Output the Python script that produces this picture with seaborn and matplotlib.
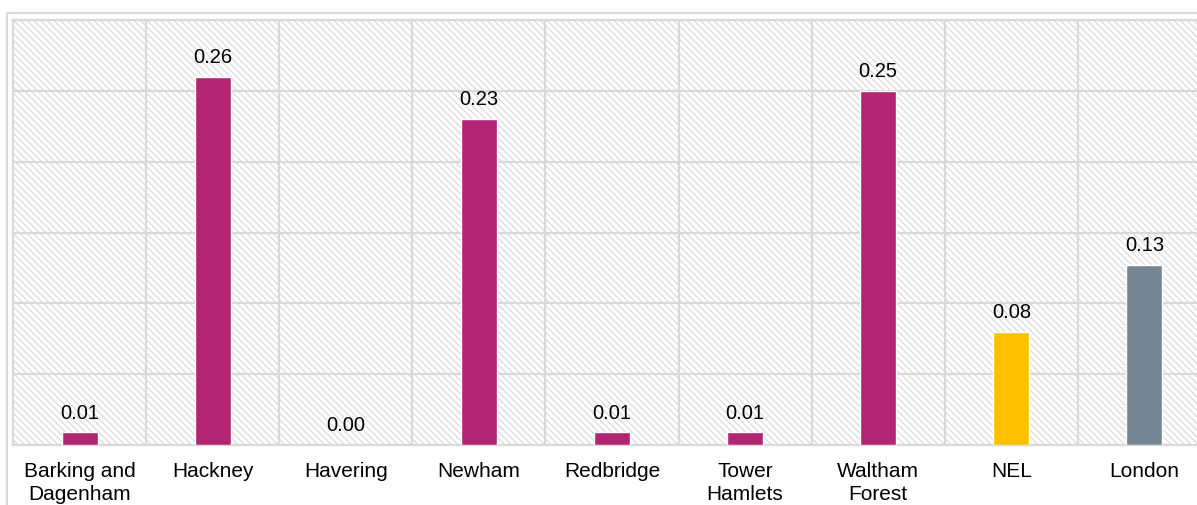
import numpy as np
import pandas as pd
import matplotlib
matplotlib.use("Agg")
import matplotlib.pyplot as plt
from matplotlib.patches import Rectangle
import seaborn as sns

# Data
areas = ["Barking and\nDagenham", "Hackney", "Havering", "Newham", "Redbridge",
         "Tower\nHamlets", "Waltham\nForest", "NEL", "London"]
values = [0.009, 0.26, 0.0, 0.23, 0.009, 0.009, 0.25, 0.08, 0.127]
colors = ["#B12572"] * 7 + ["#FFC000", "#758592"]

GRID = "#dbd8d9"

sns.set_theme(style="white")
plt.rcParams["font.family"] = ["Liberation Sans", "DejaVu Sans"]
plt.rcParams["hatch.color"] = "#d2d2d2"
plt.rcParams["hatch.linewidth"] = 0.7

df = pd.DataFrame({"area": areas, "value": values})

fig = plt.figure(figsize=(11.97, 5.05), dpi=100)
W, H = 1197, 505
ax = fig.add_axes([13 / W, 1 - 445 / H, 1198 / W, (445 - 20) / H])

# outer chart border
fig.patches.append(Rectangle((7 / W, -0.1), 1.2, 1 - 13 / H + 0.1, transform=fig.transFigure,
                             fill=False, edgecolor=GRID, linewidth=1.5, zorder=0))

# hatched plot background
ax.add_patch(Rectangle((0, 0), 1, 1, transform=ax.transAxes, facecolor="white",
                       hatch="\\" * 5, edgecolor="#d2d2d2", linewidth=0, zorder=0))

sns.barplot(data=df, x="area", y="value", hue="area", palette=colors,
            width=0.27, legend=False, ax=ax, zorder=3, saturation=1)

for i, v in enumerate(values):
    ax.annotate(f"{v:.2f}", (i, v), xytext=(0, 7), textcoords="offset points",
                ha="center", va="bottom", fontsize=14.5, color="#000000", zorder=4)

ax.set_xlim(-0.5, len(areas) - 0.5)
ax.set_ylim(0, 0.30)
ax.set_yticks(np.arange(0, 0.301, 0.05))
ax.set_yticklabels([])
ax.set_xticks(np.arange(len(areas)) + 0.5, minor=True)
ax.grid(True, which="major", axis="y", color=GRID, linewidth=1.6, zorder=1)
ax.grid(True, which="minor", axis="x", color=GRID, linewidth=1.6, zorder=1)
ax.grid(False, which="major", axis="x")
ax.set_axisbelow(True)
ax.tick_params(axis="both", which="both", length=0)
ax.tick_params(axis="x", pad=12, labelsize=15, colors="#000000")
for lbl in ax.get_xticklabels():
    lbl.set_linespacing(1.3)
ax.set_xlabel("")
ax.set_ylabel("")
for s in ax.spines.values():
    s.set_color(GRID)
    s.set_linewidth(1.6)

fig.savefig("out.png", dpi=100)
